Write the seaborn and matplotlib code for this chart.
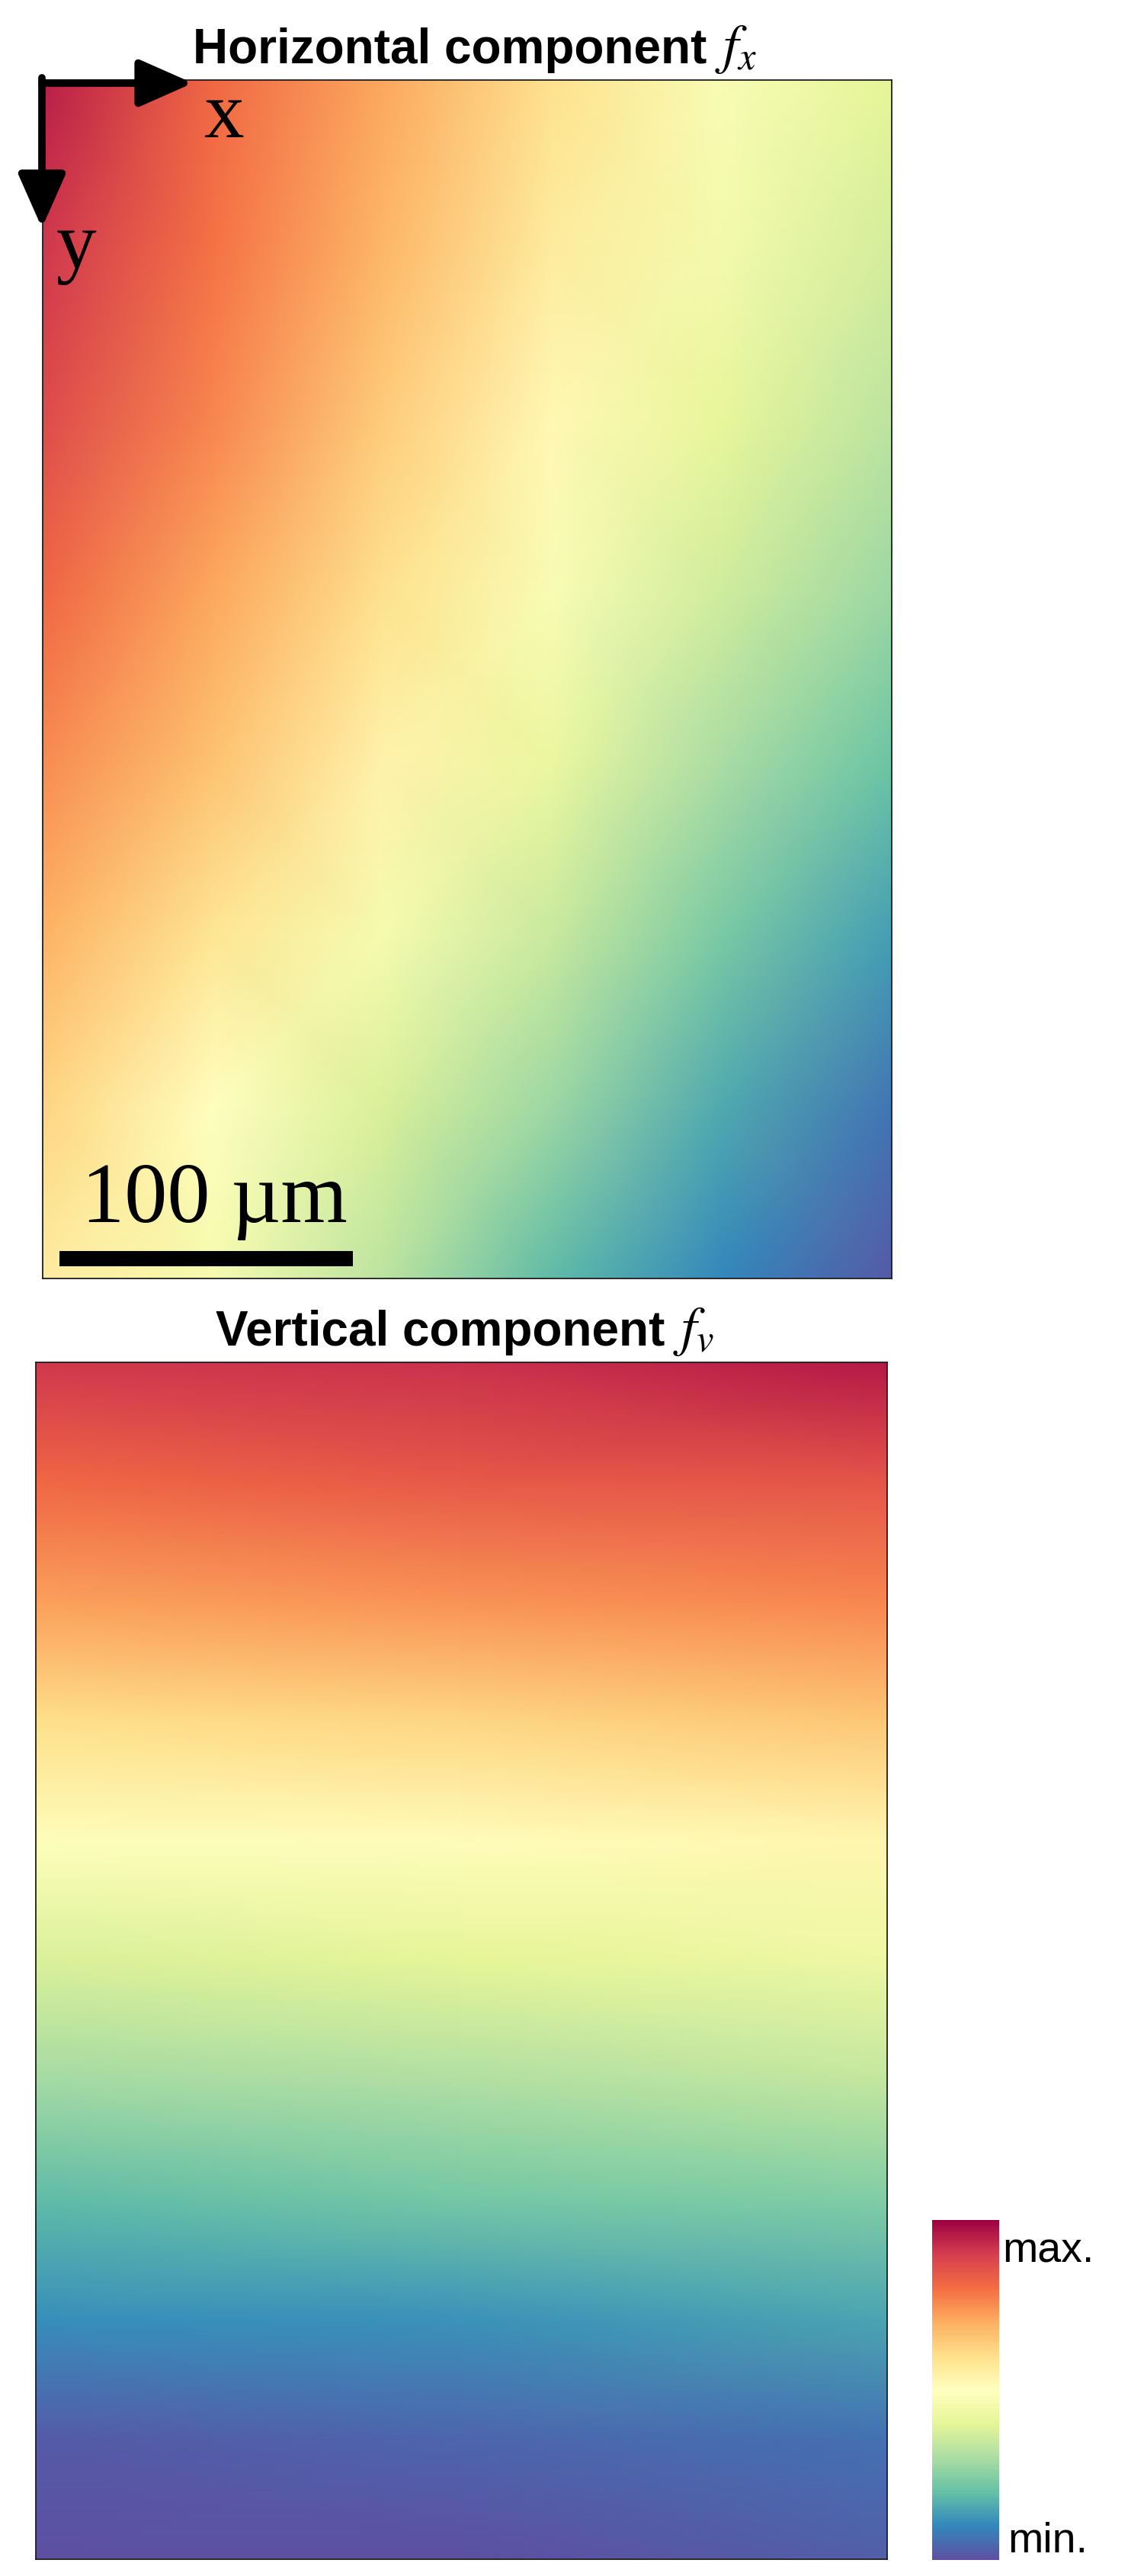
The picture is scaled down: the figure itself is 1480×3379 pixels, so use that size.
import numpy as np
import pandas as pd
import matplotlib
matplotlib.use("Agg")
import matplotlib.pyplot as plt
import seaborn as sns
from matplotlib.patches import FancyArrowPatch, Rectangle

# ---------------- data (normalised field values, 0 = min, 1 = max) ----------------
# Horizontal component f_x : grid nodes, columns at x = 0, .2, .4, .6, .8, 1 of the width,
# rows at y = 0, 1/7, ..., 1 of the height
fx_cols = ["0.0", "0.2", "0.4", "0.6", "0.8", "1.0"]
fx_r0 = [0.95, 0.81, 0.71, 0.59, 0.47, 0.40]
fx_r1 = [0.91, 0.79, 0.68, 0.56, 0.45, 0.37]
fx_r2 = [0.87, 0.76, 0.64, 0.52, 0.41, 0.33]
fx_r3 = [0.81, 0.71, 0.59, 0.47, 0.36, 0.28]
fx_r4 = [0.75, 0.66, 0.54, 0.42, 0.30, 0.21]
fx_r5 = [0.69, 0.58, 0.46, 0.35, 0.23, 0.14]
fx_r6 = [0.62, 0.50, 0.38, 0.28, 0.16, 0.07]
fx_r7 = [0.56, 0.46, 0.33, 0.19, 0.10, 0.02]

# Vertical component f_v : columns at left / centre / right, rows at y = 0, .1, ..., 1
fv_left   = [0.91, 0.81, 0.72, 0.60, 0.49, 0.38, 0.29, 0.19, 0.11, 0.02, 0.00]
fv_center = [0.92, 0.84, 0.74, 0.62, 0.51, 0.40, 0.31, 0.22, 0.12, 0.04, 0.00]
fv_right  = [0.96, 0.85, 0.76, 0.65, 0.53, 0.43, 0.34, 0.24, 0.15, 0.06, 0.03]

cbar_labels = ["min.", "max."]

fx_df = pd.DataFrame([fx_r0, fx_r1, fx_r2, fx_r3, fx_r4, fx_r5, fx_r6, fx_r7], columns=fx_cols)
fv_df = pd.DataFrame({"left": fv_left, "center": fv_center, "right": fv_right})

# ---------------- style ----------------
sns.set_theme(style="white")
plt.rcParams["font.family"] = ["Liberation Sans", "DejaVu Sans"]
plt.rcParams["mathtext.fontset"] = "stix"
plt.rcParams["text.color"] = "black"

W, H = 1480, 3380
fig = plt.figure(figsize=(W / 100, H / 100), dpi=100)
fig.patch.set_facecolor("white")


def rect(l, t, r, b):
    return [l / W, 1 - b / H, (r - l) / W, (b - t) / H]


def px_x(px):
    return px / W


def px_y(py):
    return 1 - py / H


ax1 = fig.add_axes(rect(56, 106, 1170, 1678))
ax2 = fig.add_axes(rect(47, 1788, 1164, 3358))
cax = fig.add_axes(rect(1223, 2913, 1311, 3359))

cmap = "Spectral_r"
for ax, df in ((ax1, fx_df), (ax2, fv_df)):
    sns.heatmap(df, ax=ax, cmap=cmap, vmin=0, vmax=1, cbar=False,
                xticklabels=False, yticklabels=False, shading="gouraud")
    nr, nc = df.shape
    ax.set_xlim(0, nc - 1)
    ax.set_ylim(nr - 1, 0)
    ax.set_xlabel("")
    ax.set_ylabel("")
    for s in ax.spines.values():
        s.set_visible(True)
        s.set_color("#1e1e1e")
        s.set_linewidth(1.3)

mesh = ax2.collections[0]
cb = fig.colorbar(mesh, cax=cax)
cb.outline.set_visible(False)
cb.set_ticks([])

# ---------------- titles ----------------
title_font = dict(family=["Liberation Sans", "DejaVu Sans"], weight="bold", size=46)
fig.text(px_x(253), px_y(83), "Horizontal component", ha="left", va="baseline", **title_font)
fig.text(px_x(938), px_y(82), "$f_x$", ha="left", va="baseline", size=52)

fig.text(px_x(283), px_y(1765), "Vertical component", ha="left", va="baseline", **title_font)
fig.text(px_x(883), px_y(1764), "$f_v$", ha="left", va="baseline", size=52)

# ---------------- axis arrows ----------------
for (xa, ya), (xb, yb) in (((55, 103), (55, 300)), ((55, 110), (253, 110))):
    arr = FancyArrowPatch((px_x(xa), px_y(ya)), (px_x(xb), px_y(yb)), transform=fig.transFigure,
                          arrowstyle="-|>,head_length=43,head_width=19", mutation_scale=1,
                          lw=7, color="black", shrinkA=0, shrinkB=0)
    fig.add_artist(arr)

serif = ["Liberation Serif", "DejaVu Serif"]
fig.text(px_x(267), px_y(180), "x", family=serif, size=76, ha="left", va="baseline")
fig.text(px_x(74), px_y(351), "y", family=serif, size=76, ha="left", va="baseline")

# ---------------- scale bar ----------------
fig.add_artist(Rectangle((px_x(78), px_y(1662)), (463 - 78) / W, 20 / H,
                         transform=fig.transFigure, color="black", lw=0))
fig.text(px_x(107), px_y(1603), "100 µm", family=serif, size=81, ha="left", va="baseline")

# ---------------- colorbar labels ----------------
fig.text(px_x(1315), px_y(2968), cbar_labels[1], size=40, ha="left", va="baseline")
fig.text(px_x(1322), px_y(3348), cbar_labels[0], size=40, ha="left", va="baseline")

fig.savefig("out.png", dpi=100)
